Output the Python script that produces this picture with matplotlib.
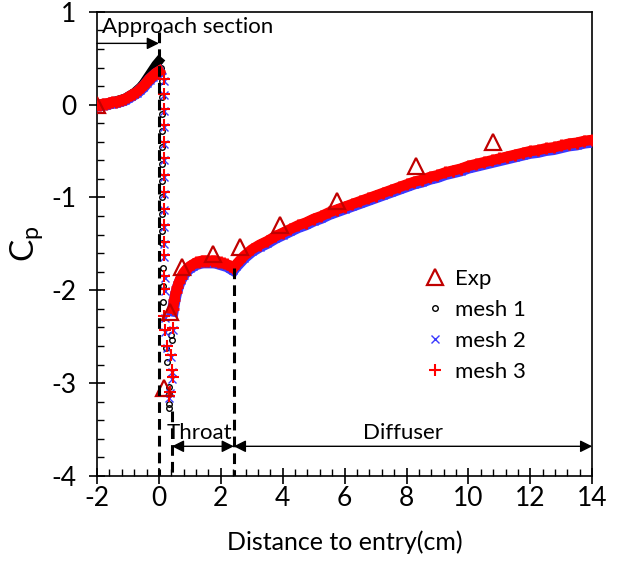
import numpy as np
import matplotlib.pyplot as plt

plt.rcParams['font.family'] = ['Lato', 'DejaVu Sans']
plt.rcParams['axes.unicode_minus'] = False

# experiment
exp_x = [-2.0, 0.15, 0.36, 0.74, 1.76, 2.61, 3.90, 5.76, 8.31, 10.79]
exp_cp = [0.0, -3.05, -2.23, -1.75, -1.61, -1.53, -1.30, -1.04, -0.66, -0.40]

# approach section (smooth part)
x_app = [-2.0, -1.9, -1.8, -1.7, -1.6, -1.5, -1.4, -1.3, -1.2, -1.1, -1.0,
         -0.9, -0.8, -0.7, -0.6, -0.5, -0.4, -0.3, -0.2, -0.1, 0.0]
cp1_app = [0.00, 0.00, 0.01, 0.01, 0.02, 0.03, 0.04, 0.05, 0.06, 0.07, 0.09,
           0.11, 0.13, 0.16, 0.19, 0.23, 0.28, 0.33, 0.38, 0.43, 0.47]
cp2_app = [-0.01, -0.01, 0.00, 0.00, 0.01, 0.02, 0.02, 0.03, 0.04, 0.05, 0.07,
           0.09, 0.11, 0.13, 0.16, 0.19, 0.23, 0.27, 0.30, 0.33, 0.35]
cp3_app = [0.00, 0.00, 0.01, 0.01, 0.02, 0.03, 0.03, 0.04, 0.05, 0.06, 0.08,
           0.10, 0.12, 0.14, 0.17, 0.20, 0.24, 0.28, 0.31, 0.34, 0.36]

# throat (recovery after the suction peak)
x_thr = [0.45, 0.5, 0.55, 0.6, 0.65, 0.7, 0.8, 0.9, 1.0, 1.1, 1.2, 1.3,
         1.4, 1.5, 1.6, 1.7, 1.8, 1.9, 2.0, 2.1, 2.2, 2.3, 2.4]
cp1_thr = [-2.22, -2.11, -2.03, -1.96, -1.91, -1.87, -1.81, -1.77, -1.74, -1.72, -1.70, -1.69,
           -1.68, -1.68, -1.68, -1.68, -1.68, -1.69, -1.70, -1.71, -1.72, -1.74, -1.76]
cp2_thr = [-2.22, -2.12, -2.04, -1.98, -1.93, -1.89, -1.83, -1.79, -1.76, -1.74, -1.72, -1.71,
           -1.70, -1.70, -1.70, -1.70, -1.70, -1.71, -1.72, -1.73, -1.74, -1.76, -1.78]
cp3_thr = [-2.20, -2.10, -2.02, -1.96, -1.91, -1.87, -1.81, -1.77, -1.74, -1.72, -1.70, -1.69,
           -1.68, -1.68, -1.68, -1.68, -1.68, -1.69, -1.70, -1.71, -1.72, -1.74, -1.76]

# diffuser
x_dif = [2.5, 2.75, 3.0, 3.25, 3.5, 3.75, 4.0, 4.25, 4.5, 4.75, 5.0, 5.25,
         5.5, 5.75, 6.0, 6.25, 6.5, 6.75, 7.0, 7.25, 7.5, 7.75, 8.0, 8.25,
         8.5, 8.75, 9.0, 9.25, 9.5, 9.75, 10.0, 10.25, 10.5, 10.75, 11.0, 11.25,
         11.5, 11.75, 12.0, 12.25, 12.5, 12.75, 13.0, 13.25, 13.5, 13.75, 14.0]
cp1_dif = [-1.72, -1.63, -1.56, -1.51, -1.47, -1.42, -1.38, -1.34, -1.30, -1.27, -1.23, -1.20,
           -1.16, -1.13, -1.10, -1.07, -1.04, -1.01, -0.98, -0.95, -0.92, -0.89, -0.86, -0.83,
           -0.81, -0.78, -0.76, -0.73, -0.71, -0.69, -0.66, -0.64, -0.62, -0.60, -0.58, -0.56,
           -0.54, -0.52, -0.50, -0.49, -0.47, -0.46, -0.44, -0.42, -0.41, -0.39, -0.38]
cp2_dif = [-1.74, -1.65, -1.58, -1.53, -1.49, -1.44, -1.40, -1.36, -1.32, -1.29, -1.25, -1.22,
           -1.18, -1.15, -1.12, -1.09, -1.06, -1.03, -1.00, -0.97, -0.94, -0.91, -0.88, -0.85,
           -0.83, -0.80, -0.78, -0.75, -0.73, -0.71, -0.68, -0.66, -0.64, -0.62, -0.60, -0.58,
           -0.56, -0.54, -0.52, -0.51, -0.49, -0.48, -0.46, -0.44, -0.43, -0.41, -0.40]
cp3_dif = [-1.72, -1.63, -1.56, -1.51, -1.47, -1.42, -1.38, -1.34, -1.30, -1.27, -1.23, -1.20,
           -1.16, -1.13, -1.10, -1.07, -1.04, -1.01, -0.98, -0.95, -0.92, -0.89, -0.86, -0.83,
           -0.81, -0.78, -0.76, -0.73, -0.71, -0.69, -0.66, -0.64, -0.62, -0.60, -0.58, -0.56,
           -0.54, -0.52, -0.50, -0.49, -0.47, -0.46, -0.44, -0.42, -0.41, -0.39, -0.38]

# sharp drop at the throat entry
x_drop1 = [0.08, 0.09, 0.09, 0.09, 0.09, 0.09, 0.10, 0.10, 0.10, 0.10, 0.11, 0.11,
           0.12, 0.12, 0.13, 0.40, 0.42, 0.23, 0.25, 0.32, 0.32, 0.32, 0.32]
cp_drop1 = [0.40, 0.25, 0.08, -0.10, -0.28, -0.46, -0.64, -0.82, -1.00, -1.18, -1.36, -1.49,
            -1.76, -1.95, -2.13, -2.48, -2.53, -2.62, -2.77, -3.04, -3.12, -3.22, -3.27]
x_drop2 = [0.16, 0.16, 0.16, 0.16, 0.16, 0.16, 0.16, 0.17, 0.17, 0.17, 0.18, 0.18,
           0.19, 0.19, 0.19, 0.20, 0.46, 0.26, 0.41, 0.43, 0.37, 0.34, 0.39]
cp_drop2 = [0.26, 0.10, -0.07, -0.24, -0.42, -0.60, -0.78, -0.96, -1.14, -1.32, -1.50, -1.64,
            -1.87, -2.01, -2.30, -2.45, -2.43, -2.62, -2.88, -2.95, -3.11, -3.16, -2.72]
x_drop3 = [0.15, 0.15, 0.15, 0.15, 0.15, 0.15, 0.15, 0.16, 0.16, 0.16, 0.17, 0.17,
           0.18, 0.18, 0.18, 0.19, 0.47, 0.25, 0.42, 0.44, 0.36, 0.33, 0.40]
cp_drop3 = [0.28, 0.12, -0.05, -0.22, -0.40, -0.58, -0.76, -0.94, -1.12, -1.30, -1.48, -1.62,
            -1.85, -1.99, -2.28, -2.43, -2.41, -2.60, -2.86, -2.93, -3.09, -3.14, -2.70]

fig = plt.figure(figsize=(6.3, 5.62), dpi=100)
ax = fig.add_axes([0.154, 0.153, 0.786, 0.826])

segs1 = [(x_app, cp1_app), (x_thr, cp1_thr), (x_dif, cp1_dif)]
segs2 = [(x_app, cp2_app), (x_thr, cp2_thr), (x_dif, cp2_dif)]
segs3 = [(x_app, cp3_app), (x_thr, cp3_thr), (x_dif, cp3_dif)]

for xs, ys in segs1:
    ax.plot(xs, ys, '-', color='black', lw=6.5, marker='o', ms=4, mfc='none', mew=1, zorder=2)
for xs, ys in segs2:
    ax.plot(xs, ys, '-', color='#3a3aff', lw=8.5, marker='x', ms=6, mew=1, zorder=3)
for xs, ys in segs3:
    ax.plot(xs, ys, '-', color='#ff0000', lw=7.5, marker='+', ms=9, mew=2, zorder=4)

h1, = ax.plot(x_drop1, cp_drop1, 'o', ms=4, mfc='none', mec='black', mew=1, zorder=2)
h2, = ax.plot(x_drop2, cp_drop2, 'x', ms=6, color='#3a3aff', mew=1, zorder=3)
h3, = ax.plot(x_drop3, cp_drop3, '+', ms=8, color='#ff0000', mew=1.5, zorder=4)
he, = ax.plot(exp_x, exp_cp, '^', ms=11, mfc='none', mec='#c00000', mew=1.6, zorder=5)

# section markers
dash = dict(color='black', lw=2.2, ls=(0, (3.5, 2)), zorder=6)
ax.plot([0, 0], [0.78, -4], **dash)
ax.plot([0.42, 0.42], [-3.3, -4], **dash)
ax.plot([2.42, 2.42], [-1.76, -4], **dash)

arr = dict(lw=1, color='black', mutation_scale=18, shrinkA=0, shrinkB=0)
ax.annotate('', xy=(0, 0.66), xytext=(-2, 0.66), arrowprops=dict(arrowstyle='-|>', **arr))
ax.annotate('', xy=(2.42, -3.68), xytext=(0.42, -3.68), arrowprops=dict(arrowstyle='<|-|>', **arr))
ax.annotate('', xy=(14, -3.68), xytext=(2.42, -3.68), arrowprops=dict(arrowstyle='<|-|>', **arr))
ax.text(-1.85, 0.84, 'Approach section', fontsize=16, ha='left', va='center')
ax.text(1.3, -3.54, 'Throat', fontsize=16, ha='center', va='center')
ax.text(7.9, -3.54, 'Diffuser', fontsize=16, ha='center', va='center')

ax.set_xlim(-2, 14)
ax.set_ylim(-4, 1)
ax.set_xticks(np.arange(-2, 15, 2))
ax.set_yticks(np.arange(-4, 2, 1))
ax.set_xticks(np.arange(-2, 14.01, 0.4), minor=True)
ax.set_yticks(np.arange(-4, 1.01, 0.2), minor=True)
ax.tick_params(which='major', direction='inout', length=12, width=1.2, labelsize=19)
ax.tick_params(axis='y', which='major', pad=9)
ax.tick_params(axis='x', which='major', pad=1)
ax.tick_params(which='minor', direction='in', length=5, width=1)
for s in ax.spines.values():
    s.set_linewidth(1.2)

ax.set_xlabel('Distance to entry(cm)', fontsize=18, labelpad=14)
ax.set_ylabel('C$_\\mathregular{p}$', fontsize=24, labelpad=4)

ax.legend([he, h1, h2, h3], ['Exp', 'mesh 1', 'mesh 2', 'mesh 3'],
          loc='upper left', bbox_to_anchor=(0.615, 0.49), frameon=False,
          fontsize=16, handletextpad=0.3, labelspacing=0.5, handlelength=1.2)

fig.savefig('out.png', dpi=100)
